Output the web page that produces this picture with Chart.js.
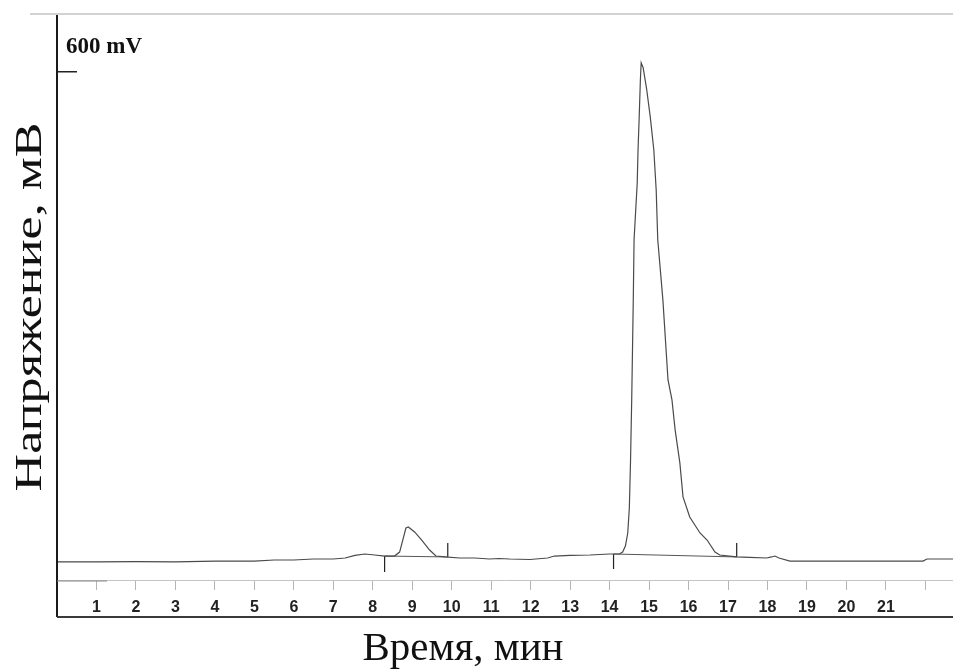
<!DOCTYPE html>
<html>
<head>
<meta charset="utf-8">
<script src="https://cdn.jsdelivr.net/npm/chart.js@4.4.1/dist/chart.umd.min.js"></script>
<style>
  body { margin: 0; background: #fff; overflow: hidden; }
  #wrap { width: 953px; height: 669px; position: relative; }
</style>
</head>
<body>
<div id="wrap"><canvas id="chrom"></canvas></div>
<script>
// chromatogram trace, time in minutes, signal in mV
const timeMin = [0, 1, 2, 3, 4, 5, 5.5, 6, 6.5, 7, 7.3, 7.55, 7.8, 8.05, 8.3, 8.55, 8.68, 8.76, 8.84, 8.9,
  9.06, 9.24, 9.44, 9.6, 9.83, 10.2, 10.58, 10.96, 11.2, 11.47, 11.98, 12.43, 12.6, 13.0, 13.5, 14.0,
  14.25, 14.33, 14.4, 14.46, 14.5, 14.53, 14.56, 14.6, 14.62, 14.7, 14.72, 14.75, 14.78, 14.8,
  14.85, 14.94, 15.03, 15.12, 15.18, 15.22, 15.35, 15.48, 15.58, 15.66, 15.78, 15.86, 16.03, 16.29,
  16.47, 16.67, 16.79, 17.22, 17.55, 17.98, 18.1, 18.19, 18.29, 18.57, 19.58, 20.6, 21.94, 22.04, 22.7];
const signalMv = [21.3, 21.3, 21.8, 21.3, 22.4, 22.4, 23.6, 23.6, 24.8, 24.8, 26, 29, 30.7, 29.5, 28.3, 28.3, 33, 47, 61.4, 62.6,
  56.7, 47.2, 35.4, 28.3, 27.2, 26, 26, 24.8, 25.4, 24.8, 24.2, 26, 28.3, 29, 29.5, 30.7,
  30.7, 33, 40, 55.5, 85, 140, 212.6, 330.7, 401.6, 468.9, 507, 546.8, 590.5, 610.6,
  604.7, 579, 546.8, 508, 460.6, 401.6, 330.7, 236.2, 212.6, 177.2, 138.2, 98, 74.4, 55.5,
  47.2, 33, 29.5, 27.2, 26.6, 26, 27.2, 28.3, 26, 22.4, 22.4, 22.4, 22.4, 24.8, 24.8];

// integration marks and baselines drawn under the peaks
const markTimes = [8.3, 9.9, 14.1, 17.22];
const markTop = [28.3, 43.7, 30.7, 43.7];
const markBottom = [9.4, 27.2, 13.0, 27.2];
const baseStart = [8.3, 14.1];
const baseEnd = [9.9, 17.22];
const baseStartMv = [28.3, 30.7];
const baseEndMv = [27.2, 27.2];

// axis
const xTicks = [1, 2, 3, 4, 5, 6, 7, 8, 9, 10, 11, 12, 13, 14, 15, 16, 17, 18, 19, 20, 21, 22];
const xLabelMax = 21;
const yMarkValue = 600;
const yMarkLabel = "600 mV";
const xTitle = "Время, мин";
const yTitle = "Напряжение, мВ";

const tracePoints = timeMin.map((t, i) => ({ x: t, y: signalMv[i] }));
const markPoints = [];
markTimes.forEach((t, i) => {
    markPoints.push({ x: t, y: markTop[i] }, { x: t, y: markBottom[i] }, { x: t, y: null });
});
const basePoints = [];
baseStart.forEach((t, i) => {
    basePoints.push({ x: t, y: baseStartMv[i] }, { x: baseEnd[i], y: baseEndMv[i] }, { x: baseEnd[i], y: null });
});

// frame, mV mark and axis titles
const framePlugin = {
    id: "frame",
    afterDraw(chart) {
        const ctx = chart.ctx;
        const area = chart.chartArea;
        const yScale = chart.scales.y;
        ctx.save();
        // faint top line
        ctx.strokeStyle = "#d2d2d2";
        ctx.lineWidth = 2;
        ctx.beginPath();
        ctx.moveTo(30, area.top - 1);
        ctx.lineTo(chart.width, area.top - 1);
        ctx.stroke();
        // left frame
        ctx.strokeStyle = "#1a1a1a";
        ctx.lineWidth = 2;
        ctx.beginPath();
        ctx.moveTo(area.left, area.top);
        ctx.lineTo(area.left, 617);
        ctx.stroke();
        // bottom frame
        ctx.strokeStyle = "#3a3a3a";
        ctx.beginPath();
        ctx.moveTo(area.left, 617);
        ctx.lineTo(chart.width, 617);
        ctx.stroke();
        // darker start of the time axis
        ctx.strokeStyle = "#888";
        ctx.lineWidth = 1;
        ctx.beginPath();
        ctx.moveTo(area.left, area.bottom + 1);
        ctx.lineTo(area.left + 50, area.bottom + 1);
        ctx.stroke();
        // 600 mV mark
        const ym = yScale.getPixelForValue(yMarkValue);
        ctx.strokeStyle = "#222";
        ctx.lineWidth = 1.5;
        ctx.beginPath();
        ctx.moveTo(area.left, ym);
        ctx.lineTo(area.left + 20, ym);
        ctx.stroke();
        ctx.fillStyle = "#111";
        ctx.font = "bold 23px 'Liberation Serif'";
        ctx.textAlign = "left";
        ctx.textBaseline = "alphabetic";
        ctx.fillText(yMarkLabel, area.left + 9, ym - 19);
        // axis titles
        ctx.font = "39px 'Liberation Serif'";
        ctx.textAlign = "center";
        ctx.save();
        ctx.translate(463, 660);
        ctx.scale(1.05, 1);
        ctx.fillText(xTitle, 0, 0);
        ctx.restore();
        ctx.font = "38px 'Liberation Serif'";
        ctx.translate(41, 307);
        ctx.rotate(-Math.PI / 2);
        ctx.scale(1.37, 1);
        ctx.fillText(yTitle, 0, 0);
        ctx.restore();
    }
};

new Chart(document.getElementById("chrom"), {
    type: "line",
    data: {
        datasets: [
            {
                data: tracePoints,
                borderColor: "#4a4a4a",
                borderWidth: 1.2,
                pointRadius: 0,
                tension: 0
            },
            {
                data: basePoints,
                borderColor: "#555",
                borderWidth: 1,
                pointRadius: 0,
                spanGaps: false
            },
            {
                data: markPoints,
                borderColor: "#222",
                borderWidth: 1.2,
                pointRadius: 0,
                spanGaps: false
            }
        ]
    },
    options: {
        responsive: true,
        maintainAspectRatio: false,
        animation: false,
        layout: {
            padding: { left: 57, top: 15, right: 0, bottom: 52 }
        },
        scales: {
            x: {
                type: "linear",
                min: 0,
                max: 22.7,
                afterBuildTicks: (scale) => {
                    scale.ticks = xTicks.map(v => ({ value: v }));
                },
                afterFit: (scale) => {
                    scale.height = 37;
                },
                ticks: {
                    autoSkip: false,
                    maxRotation: 0,
                    padding: 8,
                    color: "#222",
                    font: { family: "Liberation Sans", size: 16, weight: "bold" },
                    callback: (v) => v <= xLabelMax ? String(v) : ""
                },
                grid: {
                    drawOnChartArea: false,
                    drawTicks: true,
                    tickLength: 10,
                    color: "#b5b5b5"
                },
                border: { display: true, color: "#c4c4c4", width: 1 }
            },
            y: {
                type: "linear",
                min: 0,
                max: 667,
                display: false
            }
        },
        plugins: {
            legend: { display: false },
            tooltip: { enabled: false }
        }
    },
    plugins: [framePlugin]
});
</script>
</body>
</html>
